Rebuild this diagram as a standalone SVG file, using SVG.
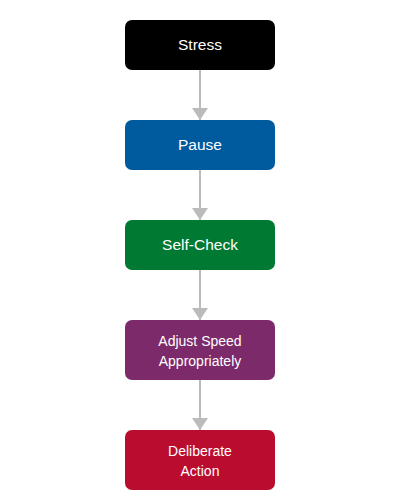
<svg xmlns="http://www.w3.org/2000/svg" width="400" height="500" viewBox="0 0 400 500">
<defs>
<marker id="ah" markerWidth="12" markerHeight="16" refX="12" refY="8" orient="auto" markerUnits="userSpaceOnUse">
<path d="M0,0 L12,8 L0,16 z" fill="#bbbbbb"/>
</marker>
<style>
.box{stroke:none}
.t{font-family:"Liberation Sans",Arial,sans-serif;fill:#fff;text-anchor:middle}
.t1{font-size:15.5px}
.t2{font-size:14px}
.c{stroke:#bbbbbb;stroke-width:2;fill:none}
</style>
</defs>
<rect width="400" height="500" fill="#fff"/>
<g id="connectors">
<line class="c" x1="200" y1="70" x2="200" y2="120" marker-end="url(#ah)"/>
<line class="c" x1="200" y1="170" x2="200" y2="220" marker-end="url(#ah)"/>
<line class="c" x1="200" y1="270" x2="200" y2="320" marker-end="url(#ah)"/>
<line class="c" x1="200" y1="380" x2="200" y2="430" marker-end="url(#ah)"/>
</g>
<g id="stress"><rect class="box" x="125" y="20" width="150" height="50" rx="7" fill="#000000"/><text class="t t1" x="200" y="50">Stress</text></g>
<g id="pause"><rect class="box" x="125" y="120" width="150" height="50" rx="7" fill="#005a9e"/><text class="t t1" x="200" y="150">Pause</text></g>
<g id="selfcheck"><rect class="box" x="125" y="220" width="150" height="50" rx="7" fill="#007a33"/><text class="t t1" x="200" y="250">Self-Check</text></g>
<g id="adjust"><rect class="box" x="125" y="320" width="150" height="60" rx="7" fill="#7d2a6a"/><text class="t t2" x="200" y="346">Adjust Speed</text><text class="t t2" x="200" y="366">Appropriately</text></g>
<g id="deliberate"><rect class="box" x="125" y="430" width="150" height="60" rx="7" fill="#ba0c2f"/><text class="t t2" x="200" y="456">Deliberate</text><text class="t t2" x="200" y="476">Action</text></g>
</svg>
